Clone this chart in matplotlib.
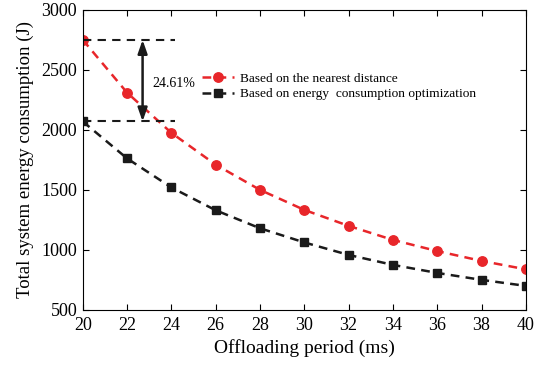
import matplotlib
matplotlib.use("Agg")
import matplotlib.pyplot as plt

x = [20, 22, 24, 26, 28, 30, 32, 34, 36, 38, 40]
nearest = [2750, 2310, 1975, 1710, 1500, 1333, 1200, 1083, 990, 908, 838]
optimized = [2070, 1762, 1520, 1330, 1180, 1062, 958, 875, 808, 750, 700]
label_nearest = "Based on the nearest distance"
label_opt = "Based on energy  consumption optimization"
pct_text = "24.61%"

plt.rcParams['font.family'] = ['Liberation Serif', 'DejaVu Serif']

fig = plt.figure(figsize=(5.41, 3.65), dpi=100)
ax = fig.add_axes([0.153, 0.151, 0.819, 0.822])

ax.plot(x, nearest, '--', color='#e8262a', marker='o', markersize=6.8, lw=1.8,
        dashes=(3.5, 2.5), label=label_nearest)
ax.plot(x, optimized, '--', color='#1a1a1a', marker='s', markersize=5.8, lw=1.8,
        dashes=(3.5, 2.5), label=label_opt)

ax.plot([20, 24.15], [nearest[0], nearest[0]], '--', color='#1a1a1a', lw=1.5, dashes=(4, 3))
ax.plot([20, 24.15], [optimized[0], optimized[0]], '--', color='#1a1a1a', lw=1.5, dashes=(4, 3))
ax.annotate('', xy=(22.7, optimized[0]), xytext=(22.7, nearest[0]),
            arrowprops=dict(arrowstyle='<|-|>,head_length=0.8,head_width=0.28',
                            color='#1a1a1a', lw=1.8,
                            mutation_scale=10, shrinkA=0, shrinkB=0))
ax.text(23.15, 2390, pct_text, fontsize=10, va='center', ha='left')

ax.set_xlim(20, 40)
ax.set_ylim(500, 3000)
ax.set_xticks(range(20, 41, 2))
ax.set_yticks(range(500, 3001, 500))
ax.tick_params(direction='in', top=True, right=True, labelsize=13, length=4, width=0.8)
ax.tick_params(axis='x', pad=5)
ax.tick_params(axis='y', pad=4)
for s in ax.spines.values():
    s.set_linewidth(0.8)
ax.set_xlabel("Offloading period (ms)", fontsize=14, labelpad=4)
ax.set_ylabel("Total system energy consumption (J)", fontsize=13.5, labelpad=5)

leg = ax.legend(loc='upper left', bbox_to_anchor=(0.258, 0.81), frameon=False,
                fontsize=9.6, handlelength=2.4, handletextpad=0.4, labelspacing=0.25,
                borderaxespad=0)

fig.savefig("out.png", dpi=100)
